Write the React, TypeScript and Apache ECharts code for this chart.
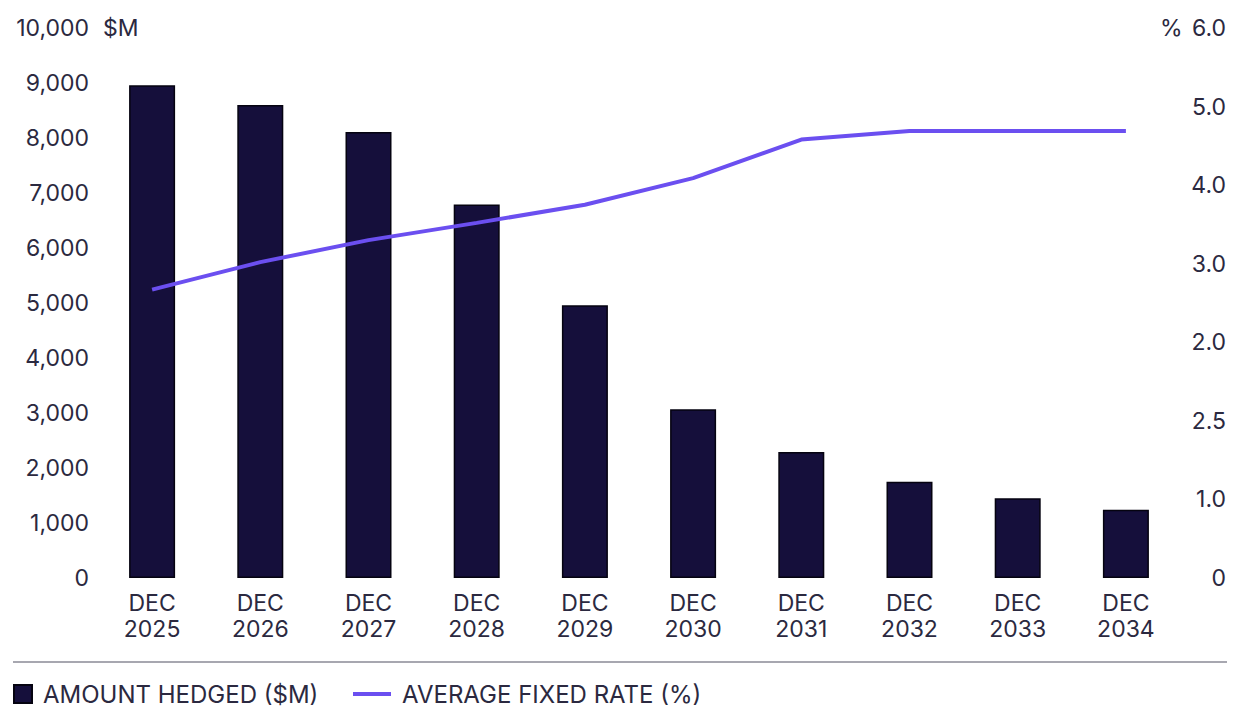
import React, { useEffect, useRef } from "react";
import * as echarts from "echarts";

const CATEGORIES = ["DEC\n2025", "DEC\n2026", "DEC\n2027", "DEC\n2028", "DEC\n2029", "DEC\n2030", "DEC\n2031", "DEC\n2032", "DEC\n2033", "DEC\n2034"];
const AMOUNT_HEDGED = [8960, 8600, 8110, 6790, 4960, 3070, 2290, 1750, 1450, 1240];
const AVERAGE_FIXED_RATE = [2.67, 3.02, 3.3, 3.52, 3.75, 4.09, 4.58, 4.69, 4.69, 4.69];
const AMOUNT_TICKS = { min: 0, max: 10000, interval: 1000 };
// tick labels of the rate axis, as printed on the original (bottom to top)
const RATE_TICK_LABELS = ["0", "1.0", "2.5", "2.0", "3.0", "4.0", "5.0", "6.0"];
const RATE_AXIS = { min: -1, max: 6, interval: 1 };
const SERIES_NAMES = ["AMOUNT HEDGED ($M)", "AVERAGE FIXED RATE (%)"];

const TEXT = "#2b2940";
const BAR = "#150f3b";
const LINE = "#6b4ff0";
const FONT = "Inter, 'Noto Sans', sans-serif";

export default function App() {
  const ref = useRef<HTMLDivElement>(null);
  useEffect(() => {
    document.body.style.margin = "0";
    const chart = echarts.init(ref.current!, null, { renderer: "svg" });
    chart.setOption({
      animation: false,
      textStyle: { fontFamily: FONT },
      grid: { left: 98, right: 75, top: 28, bottom: 136, containLabel: false },
      legend: [
        {
          left: 13,
          top: 682,
          padding: 0,
          data: [SERIES_NAMES[0]],
          icon: "rect",
          itemWidth: 18,
          itemHeight: 18,
          textStyle: { fontSize: 24, color: TEXT, fontFamily: FONT, padding: [0, 0, 0, 6] },
        },
        {
          left: 353,
          top: 682,
          padding: 0,
          data: [SERIES_NAMES[1]],
          icon: "rect",
          itemWidth: 38,
          itemHeight: 4,
          textStyle: { fontSize: 24, color: TEXT, fontFamily: FONT, padding: [0, 0, 0, 6] },
        },
      ],
      xAxis: {
        type: "category",
        data: CATEGORIES,
        axisLine: { show: false },
        axisTick: { show: false },
        axisLabel: { color: TEXT, fontSize: 23, lineHeight: 26, margin: 12, fontFamily: FONT },
      },
      yAxis: [
        {
          type: "value",
          min: AMOUNT_TICKS.min,
          max: AMOUNT_TICKS.max,
          interval: AMOUNT_TICKS.interval,
          splitLine: { show: false },
          axisLine: { show: false },
          axisTick: { show: false },
          axisLabel: {
            color: TEXT,
            fontSize: 23,
            margin: 9,
            fontFamily: FONT,
            formatter: (v: number) => v.toLocaleString("en-US"),
          },
        },
        {
          type: "value",
          position: "right",
          min: RATE_AXIS.min,
          max: RATE_AXIS.max,
          interval: RATE_AXIS.interval,
          splitLine: { show: false },
          axisLine: { show: false },
          axisTick: { show: false },
          axisLabel: {
            color: TEXT,
            fontSize: 23,
            margin: 46,
            align: "right",
            fontFamily: FONT,
            formatter: (v: number) => RATE_TICK_LABELS[Math.round(v - RATE_AXIS.min)] ?? "",
          },
        },
      ],
      series: [
        {
          name: SERIES_NAMES[0],
          type: "bar",
          data: AMOUNT_HEDGED,
          barWidth: 46,
          itemStyle: { color: BAR, borderColor: "#050310", borderWidth: 1.5 },
        },
        {
          name: SERIES_NAMES[1],
          type: "line",
          yAxisIndex: 1,
          data: AVERAGE_FIXED_RATE,
          symbol: "none",
          lineStyle: { color: LINE, width: 4 },
          itemStyle: { color: LINE },
        },
      ],
      graphic: [
        { type: "text", left: 103, top: 16, style: { text: "$M", fontSize: 23, fill: TEXT, fontFamily: FONT } },
        { type: "text", left: 1160, top: 16, style: { text: "%", fontSize: 23, fill: TEXT, fontFamily: FONT } },
        { type: "line", shape: { x1: 13, y1: 662, x2: 1227, y2: 662 }, style: { stroke: "#8a8a96", lineWidth: 1.5 } },
      ],
    });
    return () => chart.dispose();
  }, []);
  return <div ref={ref} style={{ width: 1255, height: 714 }} />;
}
